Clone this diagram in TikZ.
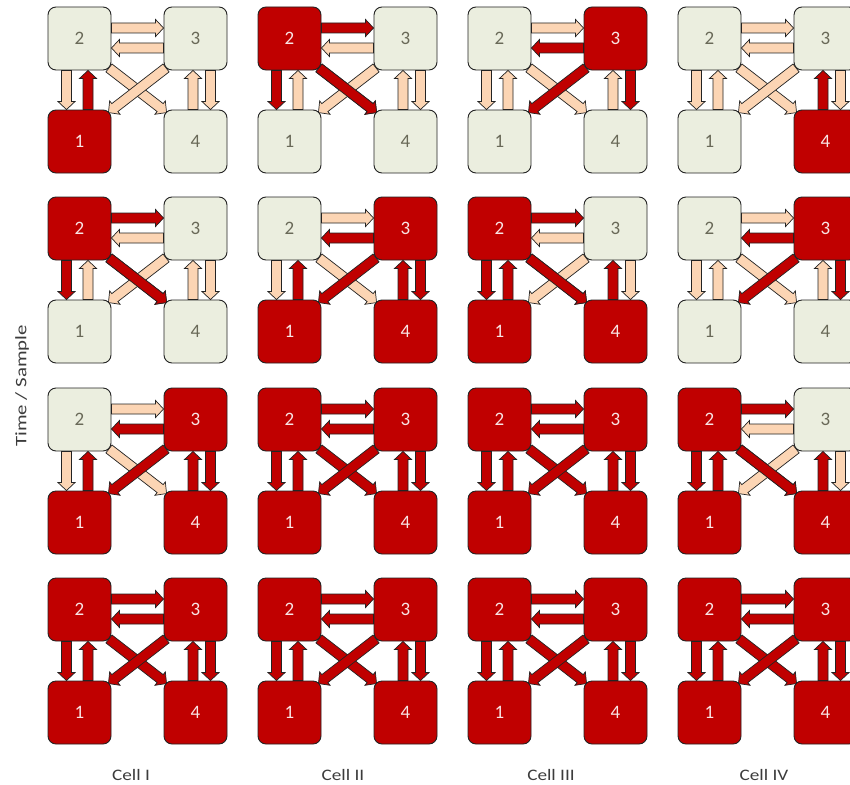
\documentclass[tikz,border=0pt]{standalone}
\usepackage{fontspec}
\setmainfont{Carlito}
\usetikzlibrary{calc}
\definecolor{actred}{RGB}{192,0,0}
\definecolor{idlefill}{RGB}{235,238,223}
\definecolor{peach}{RGB}{252,213,180}
\definecolor{idletext}{RGB}{105,105,88}
\definecolor{acttext}{RGB}{248,228,228}
\definecolor{edge}{RGB}{35,35,35}
\definecolor{labeltext}{RGB}{60,60,60}
\tikzset{
  box/.style={rectangle, rounded corners=8pt, minimum width=63pt, minimum height=63pt,
    inner sep=0pt, draw=edge, line width=0.9pt, font=\fontsize{19}{19}\selectfont},
  boxr/.style={box, fill=actred, text=acttext},
  boxg/.style={box, fill=idlefill, text=idletext},
  arrbase/.style={draw=edge, line width=0.7pt, line join=miter},
  arrr/.style={arrbase, fill=actred},
  arrg/.style={arrbase, fill=peach},
  axislabel/.style={text=labeltext, font=\fontsize{16}{16}\selectfont, inner sep=0pt},
}
\newcommand\arrSW{5pt}
\newcommand\arrHW{8.5pt}
\newcommand\arrHL{8pt}
% block arrow: #1 style, #2 start coordinate, #3 tip coordinate
\newcommand\blockarrow[3]{%
  \path[#1] let \p1=#2, \p2=#3,
    \n1={atan2(\y2-\y1,\x2-\x1)},
    \n2={veclen(\x2-\x1,\y2-\y1)-\arrHL},
    \p3=($(\p1)+(\n1:\n2*1pt)$)
  in ($(\p1)+(\n1+90:\arrSW)$) -- ($(\p3)+(\n1+90:\arrSW)$)
     -- ($(\p3)+(\n1+90:\arrHW)$) -- (\p2)
     -- ($(\p3)+(\n1-90:\arrHW)$) -- ($(\p3)+(\n1-90:\arrSW)$)
     -- ($(\p1)+(\n1-90:\arrSW)$) -- cycle;}
% cell: #1 name, #2 x, #3 y, #4..#7 state (r/g) of nodes 1,2,3,4
\newcommand\drawcell[7]{%
  \begin{scope}[shift={(#2,-#3)}]
    \node[box#5] (#1n2) at (31.5,-31.5) {2};
    \node[box#6] (#1n3) at (147.5,-31.5) {3};
    \node[box#4] (#1n1) at (31.5,-134.5) {1};
    \node[box#7] (#1n4) at (147.5,-134.5) {4};
  \end{scope}
  \blockarrow{arr#5}{([yshift=10.5pt]#1n2.east)}{([yshift=10.5pt]#1n3.west)}
  \blockarrow{arr#6}{([yshift=-9.5pt]#1n3.west)}{([yshift=-9.5pt]#1n2.east)}
  \blockarrow{arr#5}{([xshift=-13pt]#1n2.south)}{([xshift=-13pt]#1n1.north)}
  \blockarrow{arr#4}{([xshift=8.5pt]#1n1.north)}{([xshift=8.5pt]#1n2.south)}
  \blockarrow{arr#7}{([xshift=-2.5pt]#1n4.north)}{([xshift=-2.5pt]#1n3.south)}
  \blockarrow{arr#6}{([xshift=15pt]#1n3.south)}{([xshift=15pt]#1n4.north)}
  \blockarrow{arr#5}{($(#1n2.south east)+(-2.5,2.5)$)}{($(#1n4.north west)+(3,-3)$)}
  \blockarrow{arr#6}{($(#1n3.south west)+(2.5,2.5)$)}{($(#1n1.north east)+(-3,-3)$)}
  \if#5r\if#6g%
    \blockarrow{arrr}{($(#1n2.south east)+(-2.5,2.5)$)}{($(#1n4.north west)+(3,-3)$)}%
  \fi\fi
}
\begin{document}
\begin{tikzpicture}[x=1pt,y=1pt]
\useasboundingbox (0,0) rectangle (850,-784);
\fill[white] (0,0) rectangle (850,-784);
\clip (0,0) rectangle (850,-784);
% row 1
\drawcell{a1}{48}{7}{r}{g}{g}{g}
\drawcell{a2}{258}{7}{g}{r}{g}{g}
\drawcell{a3}{468}{7}{g}{g}{r}{g}
\drawcell{a4}{678}{7}{g}{g}{g}{r}
% row 2
\drawcell{b1}{48}{197}{g}{r}{g}{g}
\drawcell{b2}{258}{197}{r}{g}{r}{r}
\drawcell{b3}{468}{197}{r}{r}{g}{r}
\drawcell{b4}{678}{197}{g}{g}{r}{g}
% row 3
\drawcell{c1}{48}{388}{r}{g}{r}{r}
\drawcell{c2}{258}{388}{r}{r}{r}{r}
\drawcell{c3}{468}{388}{r}{r}{r}{r}
\drawcell{c4}{678}{388}{r}{r}{g}{r}
% row 4
\drawcell{d1}{48}{578}{r}{r}{r}{r}
\drawcell{d2}{258}{578}{r}{r}{r}{r}
\drawcell{d3}{468}{578}{r}{r}{r}{r}
\drawcell{d4}{678}{578}{r}{r}{r}{r}
% labels
\node[axislabel] (lab1) at (131,-775) {\scalebox{1.2}[1]{Cell I}};
\node[axislabel] (lab2) at (343,-775) {\scalebox{1.2}[1]{Cell II}};
\node[axislabel] (lab3) at (551,-775) {\scalebox{1.2}[1]{Cell III}};
\node[axislabel] (lab4) at (764,-775) {\scalebox{1.2}[1]{Cell IV}};
\node[axislabel, rotate=90] (ylab) at (22,-386) {\scalebox{1.3}[1]{Time / Sample}};
\end{tikzpicture}
\end{document}
